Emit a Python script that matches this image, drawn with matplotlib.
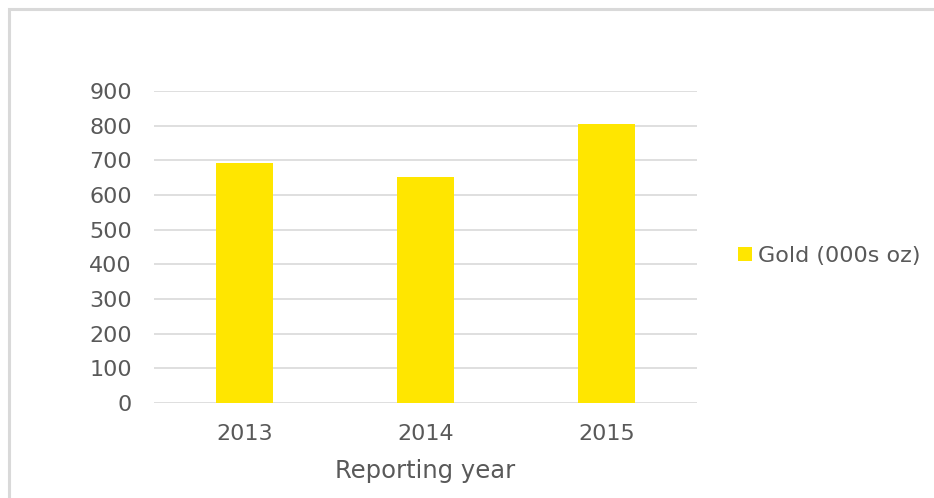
import matplotlib
matplotlib.use("Agg")
import matplotlib.pyplot as plt
from matplotlib.patches import Rectangle
import numpy as np

years = ["2013", "2014", "2015"]
gold = [692, 651, 805]
series_name = "Gold (000s oz)"
yticks = [0, 100, 200, 300, 400, 500, 600, 700, 800, 900]

GOLD = "#ffe600"
TXT = "#595959"
GRID = "#d9d9d9"

plt.rcParams["font.family"] = ["DejaVu Sans"]

W, H = 934, 498
fig = plt.figure(figsize=(W / 100, H / 100), dpi=100)

# outer chart frame (only top and left edges fall inside the image)
fig.patches.append(Rectangle((9 / W, -0.1), 1.2, (H - 9) / H + 0.1, transform=fig.transFigure,
                             fill=False, edgecolor=GRID, linewidth=2.2))

ax = fig.add_axes([154 / W, (H - 403) / H, (697 - 154) / W, (403 - 91) / H])
x = np.arange(len(years))
ax.bar(x, gold, width=0.31, color=GOLD, label=series_name, zorder=3)

ax.set_xlim(-0.5, len(years) - 0.5)
ax.set_ylim(0, 900)
ax.set_yticks(yticks)
ax.set_xticks(x, years)
ax.grid(axis="y", color=GRID, linewidth=1.2, zorder=0)
for s in ax.spines.values():
    s.set_visible(False)
ax.tick_params(length=0, labelsize=16, labelcolor=TXT)
ax.tick_params(axis="y", pad=16)
ax.tick_params(axis="x", pad=15)
ax.set_xlabel("Reporting year", fontsize=17.5, color=TXT, labelpad=11)

ax.legend(loc="center left", bbox_to_anchor=(718 / W, (H - 256) / H),
          bbox_transform=fig.transFigure, frameon=False, fontsize=16, labelcolor=TXT,
          handlelength=0.62, handleheight=0.62, handletextpad=0.3)

fig.savefig("out.png", dpi=100, facecolor="white")
